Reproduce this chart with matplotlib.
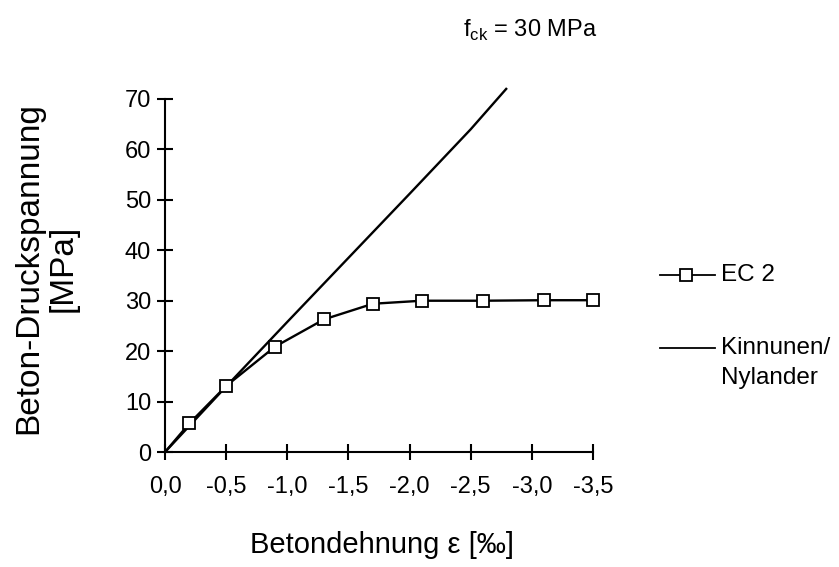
import matplotlib
matplotlib.use("Agg")
import matplotlib.pyplot as plt
from matplotlib.lines import Line2D

plt.rcParams['font.family'] = ['Liberation Sans', 'DejaVu Sans']
plt.rcParams['mathtext.fontset'] = 'custom'
plt.rcParams['mathtext.rm'] = 'Liberation Sans'

# Spannungs-Dehnungs-Linien, fck = 30 MPa
ec2_eps = [0.0, -0.2, -0.5, -0.9, -1.3, -1.7, -2.1, -2.6, -3.1, -3.5]
ec2_sig = [0.0, 5.7, 13.1, 20.9, 26.3, 29.4, 30.0, 30.0, 30.1, 30.1]

kn_eps = [0.0, -0.5, -1.0, -1.5, -2.0, -2.5, -2.79]
kn_sig = [0.0, 13.0, 25.8, 38.5, 51.2, 64.0, 72.0]

xticks = [0.0, -0.5, -1.0, -1.5, -2.0, -2.5, -3.0, -3.5]
xticklabels = ["0,0", "-0,5", "-1,0", "-1,5", "-2,0", "-2,5", "-3,0", "-3,5"]
yticks = [0, 10, 20, 30, 40, 50, 60, 70]

fig = plt.figure(figsize=(8.39, 5.67), dpi=100)
ax = fig.add_axes([0.1967, 0.2028, 0.5101, 0.6226])

ax.plot(kn_eps, kn_sig, color='black', lw=1.7, clip_on=False)
ax.plot(ec2_eps, ec2_sig, color='black', lw=1.7, marker='s', ms=9,
        mfc='white', mec='black', mew=1.3, markevery=range(1, len(ec2_eps)),
        clip_on=False, zorder=3)

ax.set_xlim(0, -3.5)
ax.set_ylim(0, 70)
ax.set_xticks(xticks)
ax.set_xticklabels(xticklabels)
ax.set_yticks(yticks)
for s in ('top', 'right'):
    ax.spines[s].set_visible(False)
for s in ('left', 'bottom'):
    ax.spines[s].set_linewidth(1.5)
ax.tick_params(direction='inout', length=12, width=1.5, labelsize=17)
ax.tick_params(axis='x', pad=11)
ax.tick_params(axis='y', pad=4)

fig.text(0.455, 1 - 545 / 567, "Betondehnung ε [‰]", ha='center', va='center', fontsize=21)
fig.text(0.055, 1 - 268 / 567, "Beton-Druckspannung\n[MPa]", ha='center', va='center',
         rotation=90, fontsize=24, linespacing=1.15)
fig.text(0.632, 1 - 30 / 567, "f$_{\\rm ck}$ = 30 MPa", ha='center', va='center', fontsize=17)

# Legende
y1 = 1 - 275 / 567
y2 = 1 - 348 / 567
fig.add_artist(Line2D([660 / 839, 715 / 839], [y1, y1], color='black', lw=1.3,
                      transform=fig.transFigure))
fig.add_artist(Line2D([686 / 839], [y1], lw=0, marker='s', ms=8,
                      mfc='white', mec='black', mew=1.3, transform=fig.transFigure))
fig.text(721 / 839, y1, "EC 2", ha='left', va='center', fontsize=17.5)
fig.add_artist(Line2D([660 / 839, 715 / 839], [y2, y2], color='black', lw=1.3,
                      transform=fig.transFigure))
fig.text(721 / 839, y2, "Kinnunen/", ha='left', va='center', fontsize=17.5)
fig.text(721 / 839, 1 - 378 / 567, "Nylander", ha='left', va='center', fontsize=17.5)

fig.savefig("out.png", dpi=100)
